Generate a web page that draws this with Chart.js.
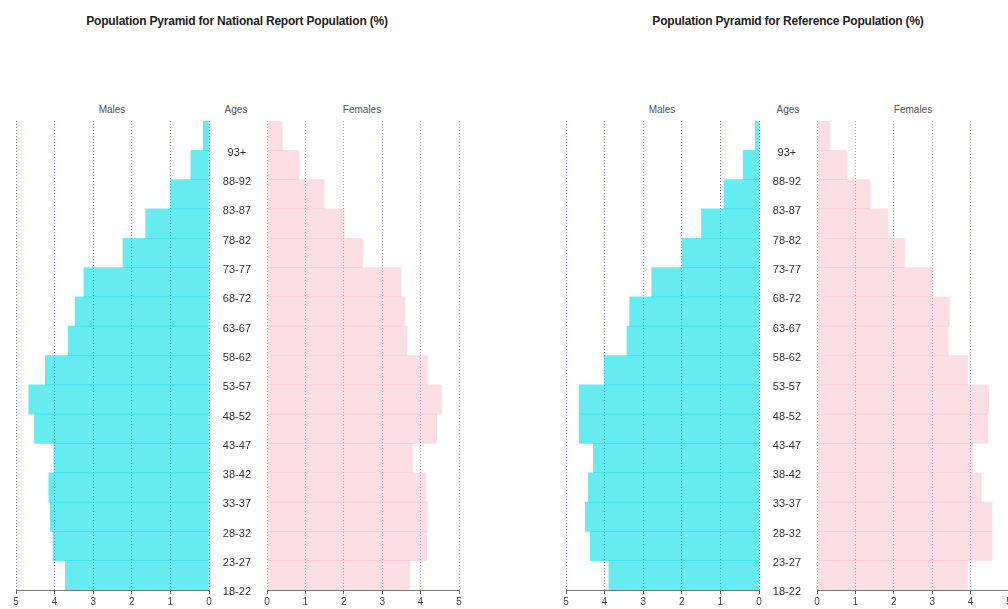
<!DOCTYPE html>
<html>
<head>
<meta charset="utf-8">
<script src="https://cdn.jsdelivr.net/npm/chart.js@4"></script>
<style>
  body { margin: 0; background: #fff; width: 1008px; height: 609px; overflow: hidden; position: relative; }
  canvas { position: absolute; }
  .txt { position: absolute; font-family: "Liberation Sans Narrow", "Arial Narrow", "Liberation Sans", sans-serif; white-space: nowrap; transform: translateX(-50%); }
  .title { font-size: 12px; font-weight: bold; color: #222; top: 14px; letter-spacing: -0.2px; }
  .head { font-size: 10px; color: #555; top: 104px; }
</style>
</head>
<body>
<div class="txt title" style="left:237px">Population Pyramid for National Report Population (%)</div>
<div class="txt title" style="left:788px">Population Pyramid for Reference Population (%)</div>

<div class="txt head" style="left:112px">Males</div>
<div class="txt head" style="left:236px">Ages</div>
<div class="txt head" style="left:362px">Females</div>
<div class="txt head" style="left:662px">Males</div>
<div class="txt head" style="left:788px">Ages</div>
<div class="txt head" style="left:913px">Females</div>

<canvas id="nationalMales" width="220" height="500" style="left:0px;top:115px"></canvas>
<canvas id="nationalFemales" width="260" height="500" style="left:209px;top:115px"></canvas>
<canvas id="refMales" width="220" height="500" style="left:550px;top:115px"></canvas>
<canvas id="refFemales" width="260" height="500" style="left:759px;top:115px"></canvas>

<script>
// age groups, top to bottom
const ages = ["93+", "88-92", "83-87", "78-82", "73-77", "68-72", "63-67", "58-62",
  "53-57", "48-52", "43-47", "38-42", "33-37", "28-32", "23-27", "18-22"]

const nationalMales = [0.15, 0.47, 1.0, 1.64, 2.23, 3.24, 3.47, 3.65,
  4.24, 4.67, 4.52, 4.02, 4.15, 4.11, 4.04, 3.72]
const nationalFemales = [0.4, 0.83, 1.49, 2.01, 2.49, 3.49, 3.59, 3.65,
  4.18, 4.55, 4.42, 3.79, 4.14, 4.18, 4.16, 3.72]
const refMales = [0.1, 0.41, 0.91, 1.49, 2.0, 2.78, 3.35, 3.42,
  4.01, 4.66, 4.66, 4.29, 4.42, 4.5, 4.37, 3.89]
const refFemales = [0.34, 0.78, 1.38, 1.85, 2.28, 3.0, 3.45, 3.42,
  3.92, 4.47, 4.45, 4.05, 4.28, 4.56, 4.56, 3.92]

const xTicks = [0, 1, 2, 3, 4, 5]

const maleColor = "rgba(0, 222, 230, 0.6)"
const femaleColor = "rgba(246, 160, 180, 0.35)"
const maleGrid = "#7777d0"
const femaleGrid = "#b49ae6"
const fontFamily = "'Liberation Sans Narrow', 'Arial Narrow', 'Liberation Sans', sans-serif"

function xScale(reverse, gridColor) {
  return {
    type: "linear",
    min: 0,
    max: 5,
    reverse: reverse,
    afterBuildTicks: (s) => { s.ticks = xTicks.map((v) => ({ value: v })) },
    afterFit: (s) => { s.height = 25 },
    grid: {
      color: gridColor,
      lineWidth: 1,
      tickLength: 4,
      tickColor: "#666",
    },
    // in v4 the dash of the grid lines lives under border
    border: { display: true, color: "#777", dash: [1, 2] },
    ticks: { color: "#444", font: { family: fontFamily, size: 10 }, padding: 2 },
  }
}

function makePyramid(canvasId, values, color, reverse, withAges, gridColor) {
  const chart = new Chart(document.getElementById(canvasId), {
    type: "bar",
    data: {
      labels: ages,
      datasets: [{
        data: values,
        backgroundColor: color,
        borderWidth: 0,
        categoryPercentage: 1,
        barPercentage: 1,
      }],
    },
    options: {
      indexAxis: "y",
      responsive: false,
      animation: false,
      layout: { padding: { top: 6, bottom: 0, left: withAges ? 0 : 16, right: withAges ? 10 : 11 } },
      plugins: { legend: { display: false }, tooltip: { enabled: false } },
      scales: {
        x: xScale(reverse, gridColor),
        y: {
          type: "category",
          offset: true,
          display: withAges,
          grid: { display: false },
          border: { display: false },
          afterFit: (s) => {
            if (!withAges) return
            s.width = 58
            s.paddingTop = 0
            s.paddingBottom = 0
          },
          ticks: {
            color: "#333",
            font: { family: fontFamily, size: 11 },
            crossAlign: "center",
            padding: 8,
            autoSkip: false,
            labelOffset: 17, // labels sit on the lower edge of each bar
          },
        },
      },
    },
  })
  return chart
}

makePyramid("nationalMales", nationalMales, maleColor, true, false, maleGrid)
makePyramid("nationalFemales", nationalFemales, femaleColor, false, true, femaleGrid)
makePyramid("refMales", refMales, maleColor, true, false, maleGrid)
makePyramid("refFemales", refFemales, femaleColor, false, true, femaleGrid)
</script>
</body>
</html>
